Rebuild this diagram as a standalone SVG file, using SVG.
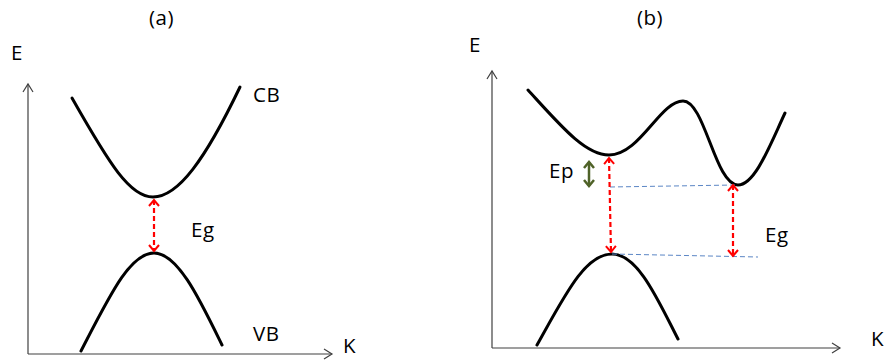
<svg xmlns="http://www.w3.org/2000/svg" width="887" height="360" viewBox="0 0 887 360">
<defs>
<style>
.t{font-family:"Open Sans","Liberation Sans",sans-serif;font-size:20.5px;fill:#000;letter-spacing:0.5px}
.ax{fill:none;stroke:#404040;stroke-width:1.2}
.band{fill:none;stroke:#000;stroke-width:3;stroke-linecap:round}
.red{fill:none;stroke:#ff0000;stroke-width:2.2;stroke-dasharray:5,3}
.blue{fill:none;stroke:#5b86c5;stroke-width:1;stroke-dasharray:5,3}
.green{fill:none;stroke:#4f6228;stroke-width:2.5}
</style>
<marker id="ah" markerWidth="12" markerHeight="12" refX="10" refY="6" orient="auto-start-reverse" markerUnits="userSpaceOnUse">
<path d="M2,1 L10,6 L2,11" fill="none" stroke="#404040" stroke-width="1.2"/>
</marker>
<marker id="rh" markerWidth="12" markerHeight="12" refX="9" refY="6" orient="auto-start-reverse" markerUnits="userSpaceOnUse">
<path d="M3,1 L9,6 L3,11" fill="none" stroke="#ff0000" stroke-width="2"/>
</marker>
<marker id="gh" markerWidth="12" markerHeight="12" refX="9" refY="6" orient="auto-start-reverse" markerUnits="userSpaceOnUse">
<path d="M3,1 L9,6 L3,11" fill="none" stroke="#4f6228" stroke-width="2.5"/>
</marker>
</defs>
<rect width="887" height="360" fill="#fff"/>

<g id="panel-a">
<text class="t" x="149" y="25">(a)</text>
<text class="t" x="11" y="60">E</text>
<text class="t" x="343" y="353">K</text>
<text class="t" x="253" y="102">CB</text>
<text class="t" x="253" y="341">VB</text>
<text class="t" x="191" y="237">Eg</text>
<g id="axes-a">
<path class="ax" d="M28,354 V84" marker-end="url(#ah)"/>
<path class="ax" d="M28,354 H332" marker-end="url(#ah)"/>
</g>
<g id="cb-a"><path class="band" d="M72,98 C110,165 130,197 153,197 C178,197 205,160 240,87"/></g>
<g id="vb-a"><path class="band" d="M81,351 C110,295 130,253 154,253 C178,253 200,300 222,345"/></g>
</g>

<g id="panel-b">
<text class="t" x="637" y="25">(b)</text>
<text class="t" x="469" y="52">E</text>
<text class="t" x="871" y="346">K</text>
<text class="t" x="549" y="178">Ep</text>
<text class="t" x="765" y="242">Eg</text>
<g id="axes-b">
<path class="ax" d="M492,348 V71" marker-end="url(#ah)"/>
<path class="ax" d="M492,348 H840" marker-end="url(#ah)"/>
</g>
<g id="cb-b"><path class="band" d="M528,90 C560,125 585,155 609,155 C640,155 660,101 683,101 C705,101 715,185 738,185 C755,185 770,145 785,113"/></g>
<g id="vb-b"><path class="band" d="M537,345 C565,295 585,254 612,254 C638,254 658,300 678,339"/></g>
</g>

<g id="connectors">
<path class="red" d="M154,200 V251" marker-start="url(#rh)" marker-end="url(#rh)"/>
<path class="blue" d="M610,187 L735,185"/>
<path class="blue" d="M612,254 L758,257"/>
<path class="red" d="M609,158 L611,252" marker-start="url(#rh)" marker-end="url(#rh)"/>
<path class="red" d="M733,185 V256" marker-start="url(#rh)" marker-end="url(#rh)"/>
<path class="green" d="M589,162 V186" marker-start="url(#gh)" marker-end="url(#gh)"/>
</g>
</svg>
